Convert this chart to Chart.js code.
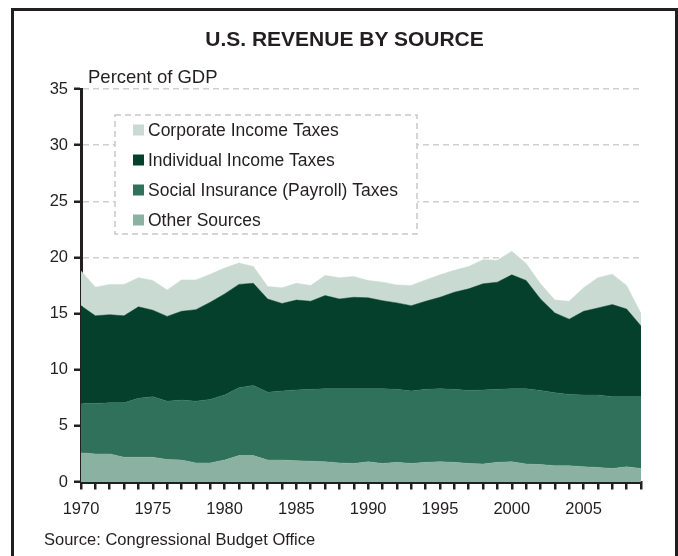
<!DOCTYPE html>
<html>
<head>
<meta charset="utf-8">
<script src="https://cdn.jsdelivr.net/npm/chart.js@4/dist/chart.umd.min.js"></script>
<style>
    html, body { margin: 0; padding: 0; background: #ffffff; }
    body { width: 678px; height: 556px; position: relative; overflow: hidden; font-family: "Liberation Sans", Arial, sans-serif; color: #231f20; }
    #frame { position: absolute; left: 11px; top: 8px; width: 661px; height: 600px; border: 3px solid #231f20; }
    #revenueChart { position: absolute; left: 0; top: 0; }
    .txt { position: absolute; white-space: nowrap; }
    #title { left: 11px; width: 667px; top: 28px; font-size: 21px; line-height: 21px; font-weight: bold; text-align: center; }
    #yCaption { left: 88px; top: 67.5px; font-size: 18.5px; line-height: 18.5px; }
    #source { left: 44px; top: 531px; font-size: 16.5px; line-height: 16.5px; }
</style>
</head>
<body>
<div id="frame"></div>
<canvas id="revenueChart" width="678" height="556"></canvas>
<div class="txt" id="title">U.S. REVENUE BY SOURCE</div>
<div class="txt" id="yCaption">Percent of GDP</div>
<div class="txt" id="source">Source: Congressional Budget Office</div>
<script>
    // Fiscal years
    const years = [1970, 1971, 1972, 1973, 1974, 1975, 1976, 1977, 1978, 1979,
                   1980, 1981, 1982, 1983, 1984, 1985, 1986, 1987, 1988, 1989,
                   1990, 1991, 1992, 1993, 1994, 1995, 1996, 1997, 1998, 1999,
                   2000, 2001, 2002, 2003, 2004, 2005, 2006, 2007, 2008, 2009];

    // Revenue by source, percent of GDP (stacked bottom to top)
    const otherSources = [2.6, 2.5, 2.5, 2.2, 2.2, 2.2, 2.0, 1.95, 1.7, 1.7,
                          1.95, 2.35, 2.35, 1.95, 1.95, 1.9, 1.85, 1.8, 1.7, 1.65,
                          1.8, 1.65, 1.75, 1.65, 1.75, 1.8, 1.75, 1.65, 1.6, 1.75,
                          1.8, 1.6, 1.55, 1.45, 1.45, 1.35, 1.3, 1.2, 1.35, 1.2];
    const socialInsurance = [4.4, 4.5, 4.55, 4.85, 5.25, 5.4, 5.2, 5.35, 5.5, 5.65,
                             5.8, 6.05, 6.25, 6.05, 6.15, 6.3, 6.4, 6.5, 6.6, 6.65,
                             6.5, 6.65, 6.5, 6.45, 6.5, 6.5, 6.5, 6.5, 6.6, 6.5,
                             6.5, 6.7, 6.6, 6.5, 6.35, 6.4, 6.45, 6.4, 6.25, 6.4];
    const individualIncome = [8.7, 7.8, 7.85, 7.75, 8.15, 7.7, 7.55, 7.9, 8.15, 8.65,
                              9.0, 9.2, 9.1, 8.3, 7.8, 8.0, 7.85, 8.3, 8.0, 8.15,
                              8.1, 7.85, 7.7, 7.6, 7.85, 8.15, 8.65, 9.05, 9.45, 9.55,
                              10.15, 9.65, 8.15, 7.1, 6.7, 7.45, 7.75, 8.2, 7.8, 6.3];
    const corporateIncome = [3.1, 2.55, 2.7, 2.8, 2.6, 2.65, 2.35, 2.8, 2.65, 2.5,
                             2.3, 1.9, 1.5, 1.1, 1.4, 1.5, 1.4, 1.8, 1.9, 1.85,
                             1.55, 1.65, 1.6, 1.8, 1.9, 2.0, 1.95, 2.0, 2.15, 1.95,
                             2.1, 1.5, 1.35, 1.15, 1.6, 2.1, 2.7, 2.7, 2.1, 1.1];

    const yTicks = [0, 5, 10, 15, 20, 25, 30, 35];

    const ink = '#231f20';
    const fontFamily = '"Liberation Sans", Arial, sans-serif';

    function area(label, data, color, fill) {
        return {
            label: label,
            data: data,
            backgroundColor: color,
            borderColor: color,
            borderWidth: 0.5,
            pointRadius: 0,
            tension: 0,
            fill: fill
        };
    }

    // Dashed box legend, listed top layer first
    const boxLegend = {
        id: 'boxLegend',
        afterDraw(chart, args, opts) {
            const ctx = chart.ctx;
            const items = chart.data.datasets.slice().reverse();
            ctx.save();
            ctx.fillStyle = '#ffffff';
            ctx.fillRect(opts.x, opts.y, opts.w, opts.h);
            ctx.strokeStyle = '#c8c8c8';
            ctx.lineWidth = 1.5;
            ctx.setLineDash([6, 4]);
            ctx.strokeRect(opts.x, opts.y, opts.w, opts.h);
            ctx.setLineDash([]);
            ctx.font = opts.fontSize + 'px ' + fontFamily;
            ctx.textBaseline = 'middle';
            items.forEach((ds, i) => {
                const cy = opts.firstY + i * opts.rowGap;
                ctx.fillStyle = ds.backgroundColor;
                ctx.fillRect(opts.x + 18, cy - 5.5, 11, 11);
                ctx.fillStyle = ink;
                ctx.fillText(ds.label, opts.x + 33, cy + 1);
            });
            ctx.restore();
        }
    };

    const ctx = document.getElementById('revenueChart').getContext('2d');
    new Chart(ctx, {
        type: 'line',
        data: {
            labels: years,
            datasets: [
                area('Other Sources', otherSources, '#8ab1a2', 'origin'),
                area('Social Insurance (Payroll) Taxes', socialInsurance, '#2f715a', '-1'),
                area('Individual Income Taxes', individualIncome, '#04402c', '-1'),
                area('Corporate Income Taxes', corporateIncome, '#c9dad3', '-1')
            ]
        },
        options: {
            responsive: false,
            animation: false,
            layout: {
                padding: { left: 0, top: 89, right: 37, bottom: 0 }
            },
            plugins: {
                legend: { display: false },
                tooltip: { enabled: false },
                boxLegend: { x: 115, y: 115, w: 302, h: 119, firstY: 130, rowGap: 30, fontSize: 17.5 }
            },
            scales: {
                x: {
                    type: 'category',
                    offset: false,
                    afterFit: function (scale) { scale.height = 74; },
                    grid: {
                        display: true,
                        drawOnChartArea: false,
                        drawTicks: true,
                        tickLength: 7.5,
                        color: ink,
                        lineWidth: 2.5,
                        tickColor: ink,
                        tickWidth: 2.5
                    },
                    border: { display: true, color: ink, width: 3 },
                    ticks: {
                        autoSkip: false,
                        maxRotation: 0,
                        padding: 10.5,
                        color: ink,
                        font: { family: fontFamily, size: 16.5 },
                        callback: function (value) {
                            const yr = Number(this.getLabelForValue(value));
                            return (yr % 5 === 0) ? String(yr) : '';
                        }
                    }
                },
                y: {
                    stacked: true,
                    min: 0,
                    max: 35,
                    afterFit: function (scale) { scale.width = 81; },
                    afterBuildTicks: function (scale) {
                        scale.ticks = yTicks.map(v => ({ value: v }));
                    },
                    grid: {
                        color: '#cfcfcf',
                        lineWidth: 1.5,
                        drawTicks: true,
                        tickLength: 7,
                        tickColor: ink,
                        tickWidth: 2.5
                    },
                    border: { display: true, color: ink, width: 3, dash: [6, 4] },
                    ticks: {
                        padding: 6,
                        color: ink,
                        font: { family: fontFamily, size: 16.5 }
                    }
                }
            }
        },
        plugins: [boxLegend]
    });
</script>
</body>
</html>
